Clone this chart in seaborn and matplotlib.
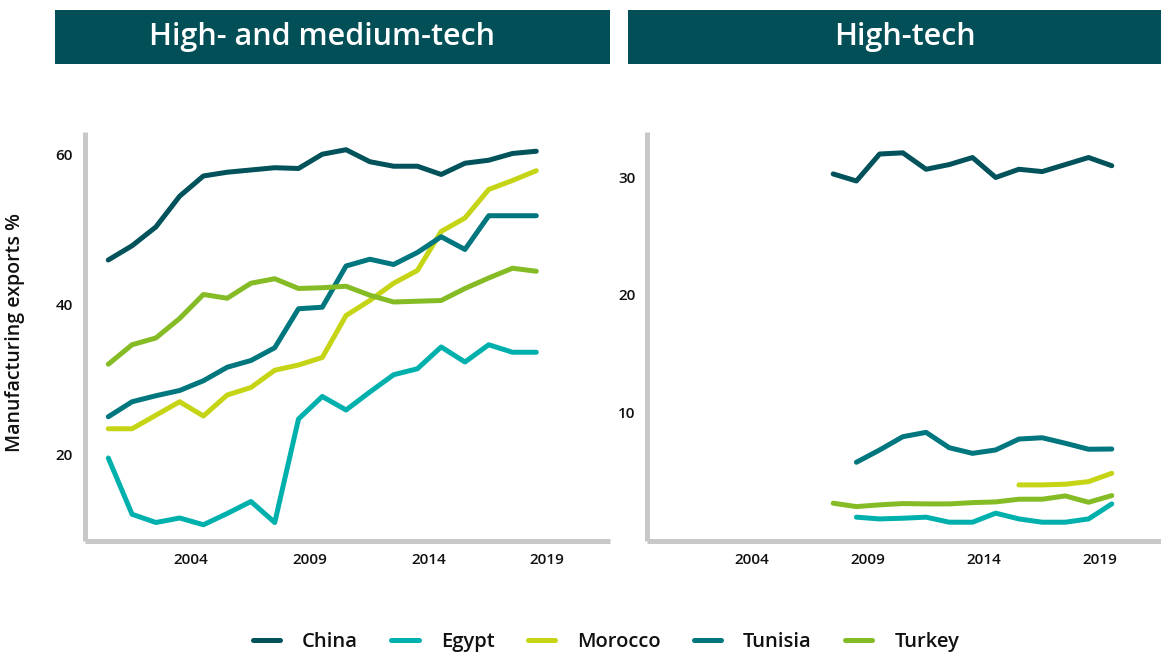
import matplotlib
matplotlib.use("Agg")
import matplotlib.pyplot as plt
import matplotlib.transforms as mtransforms
from matplotlib.patches import Rectangle
import numpy as np
import pandas as pd
import seaborn as sns

sns.set_style("white")
plt.rcParams["font.family"] = ["Open Sans", "DejaVu Sans"]

# Countries and colours
countries = ["China", "Egypt", "Morocco", "Tunisia", "Turkey"]
colors = ["#01525a", "#00b0ad", "#c5d516", "#00767e", "#85bc26"]

# High- and medium-tech share of manufacturing exports (%), 2001-2019
years_hm = list(range(2001, 2020))
china_hm = [45.9, 47.8, 50.3, 54.4, 57.1, 57.6, 57.9, 58.2, 58.1, 60.0,
            60.6, 59.0, 58.4, 58.4, 57.3, 58.8, 59.2, 60.1, 60.4]
egypt_hm = [19.5, 12.0, 10.9, 11.5, 10.6, 12.1, 13.7, 10.9, 24.7, 27.7,
            25.9, 28.3, 30.6, 31.4, 34.3, 32.3, 34.6, 33.6, 33.6]
morocco_hm = [23.4, 23.4, 25.2, 27.0, 25.1, 27.9, 28.9, 31.2, 31.9, 32.9,
              38.5, 40.5, 42.8, 44.5, 49.7, 51.5, 55.3, 56.5, 57.8]
tunisia_hm = [25.0, 27.0, 27.8, 28.5, 29.8, 31.6, 32.5, 34.2, 39.4, 39.6,
              45.1, 46.0, 45.3, 46.9, 49.0, 47.3, 51.8, 51.8, 51.8]
turkey_hm = [32.0, 34.6, 35.5, 38.1, 41.3, 40.8, 42.8, 43.4, 42.1, 42.2,
             42.4, 41.2, 40.3, 40.4, 40.5, 42.1, 43.5, 44.8, 44.4]

# High-tech share of manufacturing exports (%)
years_china_ht = list(range(2008, 2021))
china_ht = [30.3, 29.7, 32.0, 32.1, 30.7, 31.1, 31.7, 30.0, 30.7, 30.5, 31.1, 31.7, 31.0]
years_egypt_ht = list(range(2009, 2021))
egypt_ht = [1.04, 0.89, 0.95, 1.04, 0.61, 0.61, 1.38, 0.89, 0.61, 0.61, 0.89, 2.17]
years_morocco_ht = list(range(2016, 2021))
morocco_ht = [3.79, 3.79, 3.85, 4.07, 4.78]
years_tunisia_ht = list(range(2009, 2021))
tunisia_ht = [5.72, 6.77, 7.90, 8.27, 6.96, 6.48, 6.77, 7.70, 7.81, 7.34, 6.83, 6.85]
years_turkey_ht = list(range(2008, 2021))
turkey_ht = [2.23, 1.94, 2.09, 2.20, 2.17, 2.17, 2.28, 2.34, 2.57, 2.57, 2.85, 2.31, 2.88]

x_ticks = [2004, 2009, 2014, 2019]
y_ticks_hm = [20, 40, 60]
y_ticks_ht = [10, 20, 30]
panel_titles = ["High- and medium-tech", "High-tech"]
y_label = "Manufacturing exports %"


def long_frame(pairs):
    rows = []
    for country, (yrs, vals) in zip(countries, pairs):
        for yr, v in zip(yrs, vals):
            rows.append({"year": yr, "value": v, "country": country})
    return pd.DataFrame(rows)


df_hm = long_frame([(years_hm, china_hm), (years_hm, egypt_hm), (years_hm, morocco_hm),
                    (years_hm, tunisia_hm), (years_hm, turkey_hm)])
df_ht = long_frame([(years_china_ht, china_ht), (years_egypt_ht, egypt_ht),
                    (years_morocco_ht, morocco_ht), (years_tunisia_ht, tunisia_ht),
                    (years_turkey_ht, turkey_ht)])

palette = dict(zip(countries, colors))
header_color = "#024f57"
spine_color = "#c8c8c8"
text_color = "#111111"
lw = 3.6

fig = plt.figure(figsize=(11.61, 6.55), dpi=100)
ax1 = fig.add_axes([0.0728, 0.1748, 0.4526, 0.6241])
ax2 = fig.add_axes([0.5577, 0.1748, 0.4419, 0.6241])

sns.lineplot(data=df_hm, x="year", y="value", hue="country", hue_order=countries,
             palette=palette, linewidth=lw, ax=ax1, legend=True)
sns.lineplot(data=df_ht, x="year", y="value", hue="country", hue_order=countries,
             palette=palette, linewidth=lw, ax=ax2, legend=False)

handles, labels = ax1.get_legend_handles_labels()
ax1.get_legend().remove()

for ax, yt, ylim in [(ax1, y_ticks_hm, (8.5, 63)), (ax2, y_ticks_ht, (-0.95, 33.9))]:
    ax.set_xlim(2000, 2022.1)
    ax.set_ylim(*ylim)
    ax.set_xticks(x_ticks)
    ax.set_yticks(yt)
    ax.set_xlabel("")
    ax.set_ylabel("")
    for s in ["top", "right"]:
        ax.spines[s].set_visible(False)
    for s in ["left", "bottom"]:
        ax.spines[s].set_color(spine_color)
        ax.spines[s].set_linewidth(lw)
        ax.spines[s].set_capstyle("butt")
    ax.tick_params(axis="both", length=0, labelsize=11, labelcolor=text_color)
    ax.tick_params(axis="y", pad=8.5)
    ax.tick_params(axis="x", pad=9)
    # year labels sit slightly right of the data points
    offset = mtransforms.ScaledTranslation(0.11, 0, fig.dpi_scale_trans)
    for lab in ax.get_xticklabels():
        lab.set_transform(lab.get_transform() + offset)
        lab.set_fontweight("semibold")
    for lab in ax.get_yticklabels():
        lab.set_fontweight("semibold")

# panel headers
header_boxes = [(55, 610), (628, 1185)]
header_text_x = [322, 905]
W, H = 1161, 655
for (x0, x1), tx, title in zip(header_boxes, header_text_x, panel_titles):
    fig.patches.append(Rectangle((x0 / W, 1 - 64 / H), (x1 - x0) / W, 54 / H,
                                 transform=fig.transFigure, facecolor=header_color,
                                 edgecolor="none", zorder=0))
    fig.text(tx / W, 1 - 37 / H, title, color="white", fontsize=22,
             fontweight="semibold", ha="center", va="center")

fig.text(15 / W, 1 - 333 / H, y_label, rotation=90, fontsize=14,
         fontweight="semibold", ha="center", va="center", color=text_color)

fig.legend(handles, labels, loc="center", bbox_to_anchor=(606 / W, 1 - 642 / H),
           ncol=5, frameon=False, fontsize=14.5, handlelength=1.35,
           handletextpad=1.1, columnspacing=1.65)
for t in fig.legends[0].get_texts():
    t.set_fontweight("semibold")
    t.set_color(text_color)

fig.savefig("out.png", dpi=100)
